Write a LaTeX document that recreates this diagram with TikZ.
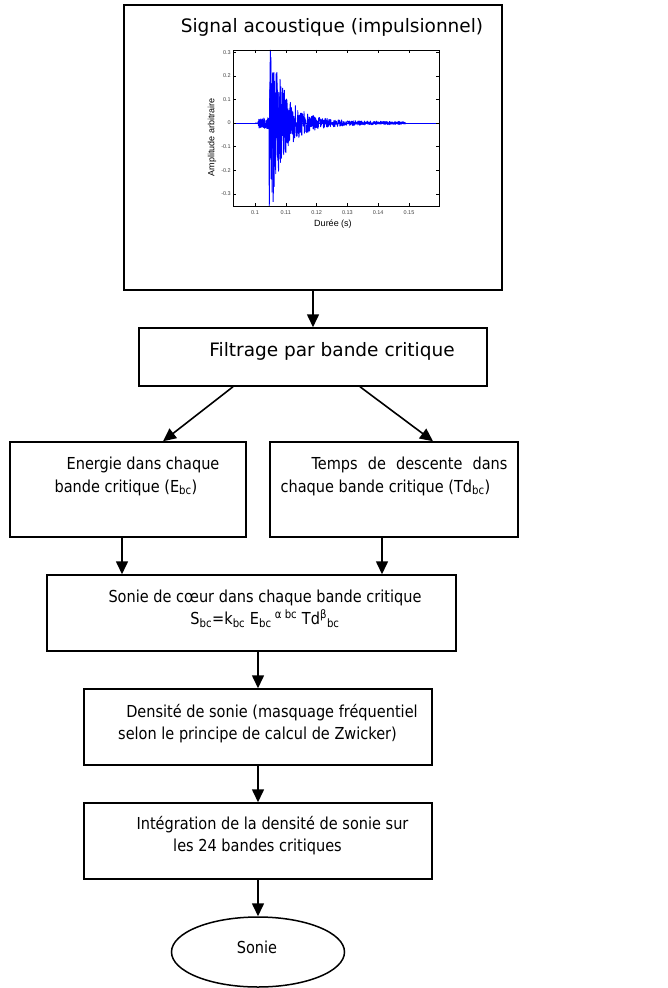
\documentclass[tikz,border=0pt]{standalone}
\usepackage{fontspec}
\setmainfont{DejaVu Sans}
\newfontfamily\narrowfont{DejaVu Sans}[FakeStretch=0.88]
\newfontfamily\plotfont{Liberation Sans}
\usetikzlibrary{arrows.meta,shapes.geometric}
\tikzset{
  blockbox/.style={draw,line width=1.5pt,inner sep=0pt},
  flowarrow/.style={line width=1.6pt,-{Triangle[length=13pt,width=12pt]}},
  blocktext/.style={font=\narrowfont\fontsize{16.5}{22.5}\selectfont,align=center,inner sep=0pt,anchor=base},
  widetext/.style={font=\fontsize{18.5}{22}\selectfont,inner sep=0pt,anchor=base},
  ticklabel/.style={font=\plotfont\fontsize{5.5}{6}\selectfont,inner sep=1pt,black!75},
  axislabel/.style={font=\plotfont\fontsize{9}{10}\selectfont,inner sep=0pt},
}
\begin{document}
\begin{tikzpicture}[x=1pt,y=-1pt]
	\useasboundingbox (0,0) rectangle (667,988);

	% blocks
	\node[blockbox,minimum width=378pt,minimum height=285pt] (signal) at (313,147.5) {};
	\node[blockbox,minimum width=348pt,minimum height=58pt] (filtrage) at (313,357) {};
	\node[blockbox,minimum width=236pt,minimum height=95pt] (energie) at (128,489.5) {};
	\node[blockbox,minimum width=248pt,minimum height=95pt] (temps) at (394,489.5) {};
	\node[blockbox,minimum width=409pt,minimum height=76pt] (coeur) at (251.5,613) {};
	\node[blockbox,minimum width=348pt,minimum height=76pt] (densite) at (258,727) {};
	\node[blockbox,minimum width=348pt,minimum height=76pt] (integration) at (258,841) {};
	\node[draw,line width=1.5pt,ellipse,minimum width=173pt,minimum height=70pt,inner sep=0pt] (sonie) at (258,952) {};

	% texts (base = last line)
	\node[widetext] (titre) at (332,32) {Signal acoustique (impulsionnel)};
	\node[widetext] (filtragetext) at (332,356) {Filtrage par bande critique};
	\node[blocktext] (energietext) at (126,492) {\hspace*{34pt}Energie dans chaque\\bande critique (E\textsubscript{bc})};
	\node[blocktext] (tempstext) at (385.5,492) {\hspace*{48pt}\makebox[196pt][s]{Temps de descente dans}\\chaque bande critique (Td\textsubscript{bc})};
	\node[blocktext] (coeurtext) at (265,624.5) {Sonie de cœur dans chaque bande critique\\S\textsubscript{bc}=k\textsubscript{bc} E\textsubscript{bc}\textsuperscript{ α bc} Td\textsuperscript{β}\textsubscript{bc}};
	\node[blocktext] (densitetext) at (257.5,739.5) {\hspace*{29pt}Densité de sonie (masquage fréquentiel\\selon le principe de calcul de Zwicker)};
	\node[blocktext] (integrationtext) at (257.5,851.5) {\hspace*{30pt}Intégration de la densité de sonie sur\\les 24 bandes critiques};
	\node[blocktext] (sonietext) at (257,953) {Sonie};

	% signal plot (time in ms after 0.1 s)
	\begin{scope}[shift={(255,123)},x=3.08pt,y=235.7pt]
		\pgfmathsetseed{11}
		\draw[blue,line width=1pt] (-7.14,0) -- (59.7,0);
		\draw[blue,line width=0.9pt,line join=round] plot[domain=0:49,samples=700,variable=\t]
			({\t},{((\t>1)*(\t<4.5)*0.025+(\t>=4.5)*(0.36*exp(-(\t-4.5)/5)+0.016-0.00022*\t))*rand});
		% main spike
		\draw[blue,line width=1pt] (4.7,0) -- (5.0,0.31) -- (5.3,-0.12) -- (5.6,0.16)
			-- (5.9,-0.335) -- (6.2,0.12) -- (6.6,-0.2) -- (7.0,0.2) -- (7.4,-0.16) -- (7.8,0.13) -- (8.2,0);
		\draw[line width=0.5pt] (-7.14,-0.352) rectangle (59.7,0.31);
		\foreach \i in {0,...,5}
			\draw[line width=0.4pt] (\i*10,-0.352) -- ++(0,0.013) (\i*10,0.31) -- ++(0,-0.013);
		\foreach \v in {-0.3,-0.2,...,0.31}
			\draw[line width=0.4pt] (-7.14,\v) -- ++(1,0) (59.7,\v) -- ++(-1,0);
	\end{scope}
	\foreach \i/\lab in {0/0.1,1/0.11,2/0.12,3/0.13,4/0.14,5/0.15}
		\node[ticklabel] (xt\i) at (255+\i*30.8,213) {\lab};
	\foreach \v/\lab [count=\k] in {0.3/0.3,0.2/0.2,0.1/0.1,0/0,-0.1/-0.1,-0.2/-0.2,-0.3/-0.3}
		\node[ticklabel,anchor=east] (yt\k) at (232,123-\v*235.7) {\lab};
	\node[axislabel] (xlabel) at (333,224) {Durée (s)};
	\node[axislabel,rotate=90] (ylabel) at (212,137) {Amplitude arbitraire};

	% links
	\draw[flowarrow] (signal) -- (filtrage);
	\draw[flowarrow] ([xshift=-80pt]filtrage.south) -- ([xshift=35pt]energie.north);
	\draw[flowarrow] ([xshift=47pt]filtrage.south) -- ([xshift=39pt]temps.north);
	\draw[flowarrow] ([xshift=-6pt]energie.south) -- ([xshift=-6pt]energie.south |- coeur.north);
	\draw[flowarrow] ([xshift=-12pt]temps.south) -- ([xshift=-12pt]temps.south |- coeur.north);
	\draw[flowarrow] (coeur.south -| densite.north) -- (densite.north);
	\draw[flowarrow] (densite) -- (integration);
	\draw[flowarrow] (integration) -- (sonie);
\end{tikzpicture}
\end{document}
